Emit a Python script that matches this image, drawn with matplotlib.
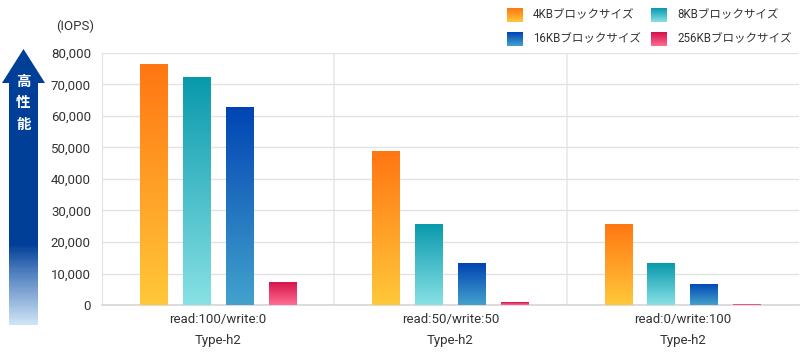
import numpy as np
import matplotlib.pyplot as plt
from matplotlib.colors import LinearSegmentedColormap
from matplotlib.patches import Polygon

plt.rcParams['font.family'] = ['Roboto', 'Noto Sans CJK JP', 'DejaVu Sans']

# データ
groups = ['read:100/write:0\nType-h2', 'read:50/write:50\nType-h2', 'read:0/write:100\nType-h2']
series = ['4KBブロックサイズ', '8KBブロックサイズ', '16KBブロックサイズ', '256KBブロックサイズ']
iops_4kb = [76500, 48800, 25800]
iops_8kb = [72400, 25800, 13200]
iops_16kb = [63000, 13200, 6800]
iops_256kb = [7400, 850, 400]
yticks = [0, 10000, 20000, 30000, 40000, 50000, 60000, 70000, 80000]

# グラデーション (上, 下)
grads = [('#ff7612', '#ffc83a'), ('#0899ad', '#88e1e4'),
         ('#0044b3', '#43a2cd'), ('#d4104a', '#ff6d92')]

fig = plt.figure(figsize=(8, 3.55), dpi=100)
ax = fig.add_axes([102 / 800, 50 / 355, 697 / 800, 252 / 355])

x = np.arange(len(groups))
width = 0.12
step = 0.1845
values = [iops_4kb, iops_8kb, iops_16kb, iops_256kb]

grad_img = np.linspace(0, 1, 256).reshape(-1, 1)
for i, vals in enumerate(values):
    bars = ax.bar(x + (i - 1.5) * step, vals, width, color='none', zorder=3)
    cmap = LinearSegmentedColormap.from_list('g%d' % i, [grads[i][0], grads[i][1]])
    for b in bars:
        x0, y0 = b.get_x(), b.get_y()
        w, h = b.get_width(), b.get_height()
        im = ax.imshow(grad_img, cmap=cmap, aspect='auto', origin='upper',
                       extent=[x0, x0 + w, y0, y0 + h], zorder=3)
        im.set_clip_path(b)

ax.set_xlim(-0.5, 2.5)
ax.set_ylim(0, 80000)
ax.set_yticks(yticks)
ax.set_yticklabels(['{:,}'.format(v) for v in yticks], fontsize=9.5, color='#333333')
ax.set_xticks(x)
ax.set_xticklabels(groups, fontsize=9.5, color='#333333', linespacing=1.75)
ax.tick_params(length=0, pad=8)
ax.tick_params(axis='x', pad=6)
ax.grid(axis='y', color='#e2e2e2', linewidth=1, zorder=0)
for xv in [0.5, 1.5]:
    ax.axvline(xv, color='#ececec', linewidth=1.4, zorder=0)
for s in ['top', 'right']:
    ax.spines[s].set_visible(False)
ax.spines['left'].set_color('#e2e2e2')
ax.spines['bottom'].set_color('#d6d6d6')
ax.spines['bottom'].set_linewidth(1.2)

fig.text(75 / 800, 1 - 26 / 355, '(IOPS)', fontsize=9.5, color='#333333',
         ha='center', va='center')

# 凡例
legend_pos = [(507, 15), (651, 15), (507, 39), (651, 39)]
for i, name in enumerate(series):
    px, py = legend_pos[i]
    lax = fig.add_axes([px / 800, 1 - (py + 7) / 355, 16 / 800, 14 / 355])
    cmap = LinearSegmentedColormap.from_list('l%d' % i, [grads[i][0], grads[i][1]])
    lax.imshow(grad_img, cmap=cmap, aspect='auto')
    lax.axis('off')
    fig.text((px + 26) / 800, 1 - py / 355, name, fontsize=8.3, color='#333333',
             ha='left', va='center')

# 高性能の矢印
aax = fig.add_axes([0, 0, 60 / 800, 1])
aax.set_xlim(0, 60)
aax.set_ylim(355, 0)
aax.axis('off')
arrow = Polygon([(9, 325), (9, 83), (2, 83), (23.5, 49), (45, 83), (38, 83), (38, 325)],
                closed=True, facecolor='none', edgecolor='none')
aax.add_patch(arrow)
arr_cmap = LinearSegmentedColormap.from_list(
    'arr', [(0, '#003f98'), (0.70, '#003f98'), (0.80, '#4f7fbf'), (1, '#dbeefb')])
yy = np.linspace(0, 1, 300).reshape(-1, 1)
aim = aax.imshow(yy, cmap=arr_cmap, aspect='auto', extent=[0, 60, 330, 45], zorder=2)
aim.set_clip_path(arrow)
for ch, cy in zip('高性能', [82, 103, 125]):
    aax.text(23.5, cy, ch, color='white', fontsize=10.5, fontweight='bold',
             ha='center', va='center', zorder=3)

fig.savefig('out.png', dpi=100)
